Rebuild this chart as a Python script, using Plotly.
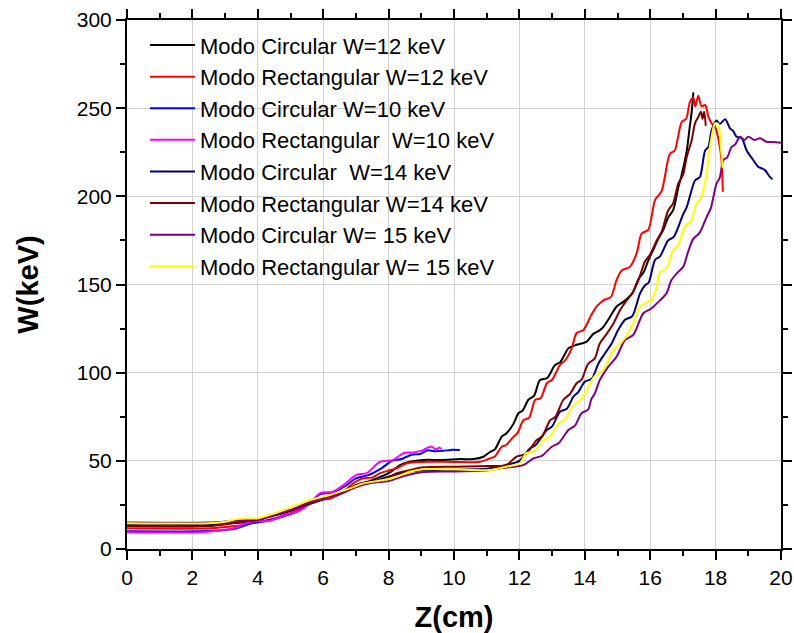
import plotly.graph_objects as go

# ---------------- data ----------------
names = [
    "Modo Circular W=12 keV",
    "Modo Rectangular W=12 keV",
    "Modo Circular W=10 keV",
    "Modo Rectangular  W=10 keV",
    "Modo Circular  W=14 keV",
    "Modo Rectangular W=14 keV",
    "Modo Circular W= 15 keV",
    "Modo Rectangular W= 15 keV",
]
colors = ["#000000", "#FF0000", "#0000FF", "#FF00FF", "#000080", "#800000", "#800080", "#FFFF00"]

z_c12 = [0, 2.2, 2.8, 3.5, 4.0, 4.5, 5.0, 5.5, 6.0, 6.5, 7.0, 7.5, 8.0, 8.35, 8.65, 9.06, 9.6, 10.2, 10.6, 10.9,
         11.1, 11.25, 11.46, 11.6, 11.82, 11.97, 12.1, 12.27, 12.45, 12.63, 12.85, 13.09, 13.25, 13.5, 13.7, 13.9,
         14.06, 14.26, 14.45, 14.57, 14.75, 14.97, 15.2, 15.45, 15.64, 15.8, 15.95, 16.1, 16.25, 16.4, 16.55, 16.7,
         16.86, 16.96, 17.12, 17.2, 17.27, 17.32]
w_c12 = [13, 13, 14, 15, 16.5, 19, 21.5, 25, 28, 31, 36, 39, 43, 47.6, 49.5, 50.5, 50.5, 51, 51, 52.3,
         55, 56.5, 63.7, 65.5, 71, 77, 78.5, 84.5, 87, 95.8, 97, 104.3, 106, 113.8, 115.5, 116.5,
         117.6, 122, 124, 126, 131, 137.4, 140.5, 145, 153, 157, 164, 170, 176, 181, 188, 192,
         205, 212, 226, 238, 248, 259]

z_r12 = [0, 2.5, 3.0, 3.5, 4.0, 4.3, 4.7, 5.0, 5.3, 5.8, 6.2, 6.62, 6.9, 7.2, 7.5, 7.74, 8.0, 8.25, 8.55, 9.0,
         10.0, 10.8, 11.1, 11.25, 11.46, 11.6, 11.82, 11.95, 12.12, 12.3, 12.48, 12.65, 12.84, 13.0, 13.24,
         13.4, 13.6, 13.75, 13.95, 14.2, 14.36, 14.57, 14.8, 14.97, 15.13, 15.38, 15.59, 15.74, 15.94, 16.15,
         16.35, 16.6, 16.75, 16.96, 17.1, 17.22, 17.32, 17.38, 17.47, 17.57, 17.68, 17.78, 17.88, 17.98, 18.08,
         18.18, 18.22]
w_r12 = [11.7, 11.7, 12.5, 13.5, 15.5, 16.5, 18.5, 20.5, 22.5, 27.8, 28.5, 32.5, 37, 40, 40.5, 43, 44.5, 45.8, 48.6, 49.4,
         49.4, 49.5, 51.4, 52.5, 58, 59, 63.7, 66, 73, 74.5, 84.5, 85.5, 94, 96, 104.3,
         107, 113.8, 122.5, 124, 132.7, 137.4, 141, 143, 152.5, 158, 160, 168, 179, 181, 198,
         203, 224, 226, 242, 244, 253.7, 256, 251, 257, 251, 251.8, 245, 241.4, 239.5, 233,
         220.6, 202.6]

z_c10 = [0, 2.2, 2.8, 3.3, 3.8, 4.3, 4.7, 5.3, 5.9, 6.3, 6.7, 7.0, 7.4, 7.8, 8.1, 8.4, 8.7, 8.96, 9.2, 9.4,
         9.67, 9.9, 10.18]
w_c10 = [10, 10, 10.5, 11.5, 14.5, 16, 18, 22, 31, 32, 36, 40, 42, 46, 50, 51, 53.5, 53.9, 56, 55.5,
         55.7, 56.2, 56.1]

z_r10 = [0, 2.2, 2.8, 3.26, 3.76, 4.37, 4.68, 5.3, 5.6, 5.9, 6.3, 6.62, 7.02, 7.33, 7.74, 8.14, 8.45, 8.75,
         9.06, 9.2, 9.32, 9.45, 9.55, 9.62]
w_r10 = [9.5, 9.5, 10.5, 11.7, 15.5, 16, 18.3, 22, 26, 31.6, 32.5, 36.3, 42, 43, 49.5, 50.5, 54.3, 54.8,
         56.1, 57.5, 58, 56.5, 57.5, 56.7]

z_c14 = [0, 2.5, 3.0, 3.5, 4.0, 4.5, 5.0, 5.5, 6.0, 6.5, 7.0, 7.5, 8.0, 8.5, 9.0, 10.0, 11.0, 11.6, 12.0, 12.32,
         12.5, 12.84, 13.0, 13.24, 13.45, 13.65, 13.8, 14.0, 14.21, 14.42, 14.62, 14.82, 15.02, 15.23, 15.45,
         15.69, 15.85, 15.95, 16.15, 16.3, 16.55, 16.72, 17.01, 17.12, 17.37, 17.52, 17.68, 17.78, 17.88, 18.03,
         18.13, 18.29, 18.44, 18.54, 18.64, 18.8, 18.95, 19.15, 19.3, 19.5, 19.66, 19.74]
w_c14 = [14, 14, 15.5, 16.5, 17, 19.5, 22, 25.5, 29, 31.5, 36, 38, 41, 43.5, 44.5, 45, 45.5, 47.6, 50, 57,
         59, 67.5, 69.5, 77.9, 79.5, 86.4, 89, 94.9, 96.5, 105.3, 111, 116.6, 124.2, 130, 132,
         145, 149.7, 151, 164, 166, 175, 177, 190, 194, 209, 211, 226, 228, 237.6, 243,
         241, 243.7, 238.6, 237, 233.8, 233, 226, 220.6, 216.8, 215, 211, 209.7]

z_r14 = [0, 2.5, 3.0, 3.5, 4.0, 4.5, 5.0, 5.5, 6.0, 6.5, 7.13, 7.5, 7.84, 8.25, 8.6, 9.06, 10.0, 11.0, 11.6, 11.9,
         12.2, 12.53, 12.7, 12.94, 13.1, 13.34, 13.55, 13.75, 13.9, 14.1, 14.3, 14.46, 14.67, 14.88, 15.08,
         15.28, 15.45, 15.64, 15.84, 16.0, 16.2, 16.35, 16.55, 16.7, 16.86, 17.0, 17.12, 17.27, 17.37, 17.47,
         17.55, 17.6, 17.65, 17.7]
w_r14 = [13, 13, 14, 15.5, 16.5, 19.5, 22, 25, 28.5, 32, 37.2, 38, 39.1, 43, 44.5, 46.3, 46.7, 47, 47.6, 52.3,
         54, 61.8, 64, 73, 75, 84.5, 88, 94, 96, 105, 108, 116.6, 122, 128, 135.5,
         141, 145, 152.5, 163, 167, 175, 180, 192, 196, 207.4, 212, 222.5, 232, 241.4, 245,
         248, 244, 248, 240]

z_c15 = [0, 2.5, 3.0, 3.5, 4.0, 4.5, 5.0, 5.5, 6.0, 6.5, 7.0, 7.5, 8.0, 8.5, 9.0, 10.0, 11.0, 11.5, 12.12, 12.43,
         12.7, 12.99, 13.2, 13.5, 13.7, 13.9, 14.1, 14.2, 14.3, 14.46, 14.72, 14.97, 15.23, 15.48, 15.79,
         16.0, 16.3, 16.5, 16.65, 16.85, 17.01, 17.15, 17.32, 17.5, 17.73, 17.85, 18.03, 18.12, 18.24, 18.35,
         18.49, 18.6, 18.75, 18.88, 19.0, 19.18, 19.36, 19.56, 19.75, 20.0]
w_c15 = [15, 15, 15.5, 16.5, 17, 19.5, 22, 26, 28.5, 31, 35, 37.5, 38.5, 41.5, 43.5, 44, 44.5, 46, 47.6, 51.4,
         53, 58, 60, 67.5, 70, 77, 79, 85, 88, 95.8, 103.4, 109, 118.5, 121.4, 133.7,
         136, 141, 145, 152.5, 157, 160, 168, 176, 179, 188.5, 193, 207.4, 210, 220.6, 222,
         228, 229.5, 233.8, 232, 233.8, 232, 232.9, 231, 230.8, 230.4]

z_r15 = [0, 2.5, 3.0, 3.36, 4.0, 4.3, 4.78, 5.2, 5.6, 6.2, 6.82, 7.23, 7.84, 8.25, 8.65, 9.06, 10.0, 11.1, 11.6, 12.02,
         12.2, 12.45, 12.73, 12.95, 13.2, 13.4, 13.65, 13.85, 14.06, 14.3, 14.57, 14.88, 15.18, 15.43, 15.69,
         15.9, 16.04, 16.2, 16.3, 16.5, 16.7, 16.85, 17.06, 17.25, 17.42, 17.55, 17.73, 17.8, 17.88, 17.98,
         18.08, 18.15, 18.22]
w_r15 = [14.6, 14.6, 15.5, 17, 17.5, 19, 22, 25, 27.8, 30.6, 34.4, 37.2, 39.1, 41, 43.8, 45.2, 45.2, 44.8, 46.7, 48.6,
         54.3, 55.5, 61.8, 64, 71.3, 73.5, 81.7, 84, 90.2, 98, 101.5, 112.9, 118.5, 126, 137.4,
         140, 141, 148.7, 157, 159, 169.6, 172, 182.8, 186, 196, 199, 213, 225, 233.8, 241.4,
         241, 230, 216]

x_ticks = [0, 2, 4, 6, 8, 10, 12, 14, 16, 18, 20]
y_ticks = [0, 50, 100, 150, 200, 250, 300]

series = [(z_c12, w_c12), (z_r12, w_r12), (z_c10, w_c10), (z_r10, w_r10),
          (z_c14, w_c14), (z_r14, w_r14), (z_c15, w_c15), (z_r15, w_r15)]

# ---------------- figure ----------------
FONT = "Liberation Sans, Arial, sans-serif"
fig = go.Figure()
for (zz, ww), nm, col in zip(series, names, colors):
    fig.add_trace(go.Scatter(x=zz, y=ww, mode="lines", name=nm,
                             line=dict(color=col, width=2, shape="spline", smoothing=0.8)))

x_dtick = x_ticks[1] - x_ticks[0]
y_dtick = y_ticks[1] - y_ticks[0]

fig.update_xaxes(
    range=[x_ticks[0], x_ticks[-1]], tickmode="linear", tick0=x_ticks[0], dtick=x_dtick,
    showgrid=True, gridcolor="#d3d3d3", gridwidth=1,
    showline=True, linecolor="black", linewidth=2, mirror="allticks",
    ticks="outside", ticklen=9, tickwidth=2, tickcolor="black",
    minor=dict(dtick=x_dtick / 2, ticks="outside", ticklen=5, tickwidth=2, tickcolor="black", showgrid=False),
    zeroline=False, automargin=False,
    tickfont=dict(size=21, family=FONT, color="black"),
    title=dict(text="<b>Z(cm)</b>", font=dict(size=29, family=FONT, color="black"), standoff=34),
)
fig.update_yaxes(
    range=[y_ticks[0], y_ticks[-1]], tickmode="linear", tick0=y_ticks[0], dtick=y_dtick,
    showgrid=True, gridcolor="#d3d3d3", gridwidth=1,
    showline=True, linecolor="black", linewidth=2, mirror="allticks",
    ticks="outside", ticklen=9, tickwidth=2, tickcolor="black",
    minor=dict(dtick=y_dtick / 2, ticks="outside", ticklen=5, tickwidth=2, tickcolor="black", showgrid=False),
    zeroline=False, automargin=False,
    tickfont=dict(size=21, family=FONT, color="black"),
    title=dict(text="<b>W(keV)</b>", font=dict(size=29, family=FONT, color="black"), standoff=30),
)

fig.update_layout(
    width=794, height=633,
    margin=dict(l=127, r=13, t=20, b=84),
    paper_bgcolor="white", plot_bgcolor="white",
    font=dict(family=FONT, color="black"),
    showlegend=True,
    legend=dict(x=0.0275, y=0.992, xanchor="left", yanchor="top",
                bgcolor="rgba(0,0,0,0)", borderwidth=0,
                font=dict(size=22, family=FONT, color="black"),
                tracegroupgap=0, itemwidth=45),
)

fig.write_html("out.html")
